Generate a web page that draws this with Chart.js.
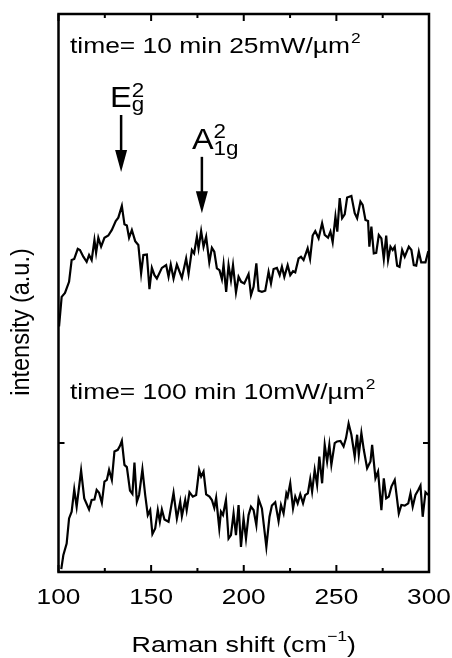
<!DOCTYPE html>
<html lang="en">
<head>
<meta charset="UTF-8">
<title>Raman spectra</title>
<script src="https://cdn.jsdelivr.net/npm/chart.js"></script>
<style>
  html, body { margin: 0; padding: 0; background: #fff; }
  canvas { display: block; }
</style>
</head>
<body>
<canvas id="ramanChart" width="452" height="658"></canvas>
<script>
// upper spectrum: time = 10 min, 25 mW/um2
const xTop = [100.3,101.7,103.5,105.7,107.1,108.5,110.4,111.6,113.4,115.2,
  116.5,117.9,119.4,120.3,121.5,123.0,124.8,126.9,128.8,130.9,
  132.3,134.2,135.6,136.9,138.1,139.6,141.4,143.1,144.6,145.8,
  147.7,149.1,150.4,151.8,153.1,155.8,158.1,159.4,160.6,162.1,
  163.9,166.6,168.9,170.2,172.0,173.2,174.7,175.6,177.0,178.3,
  179.7,181.4,182.8,184.1,185.5,186.9,188.2,189.1,190.5,191.8,
  193.1,194.2,195.8,197.2,198.6,200.3,202.6,203.9,205.3,206.8,
  208.0,209.8,211.6,213.4,214.7,216.1,217.9,219.4,220.6,221.9,
  223.7,225.1,226.6,227.8,229.6,230.9,232.3,234.5,235.8,237.2,
  238.6,240.4,242.3,243.7,245.5,246.8,248.0,249.5,250.5,251.8,
  253.1,254.5,255.8,258.1,259.9,261.2,263.0,264.2,265.7,267.1,
  267.8,268.9,270.2,271.5,272.9,274.3,275.6,276.9,277.9,279.2,
  280.4,281.5,282.8,284.1,285.5,286.9,289.1,290.5,291.8,293.1,
  294.5,295.8,298.1,299.6];
const yTop = [44.0,49.3,50.0,52.0,55.9,56.1,57.9,57.7,56.5,55.6,
  56.8,55.9,59.5,57.2,59.9,58.3,59.9,60.3,61.3,62.9,
  63.5,65.6,62.3,62.1,59.9,61.3,59.3,58.6,53.5,56.8,
  56.9,50.7,54.5,53.2,52.6,54.5,55.0,52.9,55.1,52.6,
  55.1,52.7,56.2,53.4,57.7,57.1,60.1,58.0,61.1,58.3,
  60.1,55.5,58.1,57.4,54.4,54.1,52.5,55.1,50.2,55.0,
  52.3,55.0,50.1,52.9,52.0,51.7,53.4,49.6,51.1,55.3,
  50.4,50.2,50.4,53.8,51.7,54.3,54.5,53.2,54.7,52.9,
  55.0,53.2,53.9,53.7,56.2,56.5,55.9,58.0,56.1,60.3,
  61.1,59.8,62.5,60.4,59.9,61.0,59.1,63.7,61.0,67.0,
  63.4,64.1,67.1,67.4,64.3,63.4,66.4,65.8,63.1,62.9,
  58.3,61.9,57.1,57.2,60.4,59.8,56.1,60.3,55.9,58.3,
  57.7,58.3,54.9,54.7,57.7,56.5,58.3,57.7,55.0,54.9,
  57.4,55.5,55.5,57.5];

// lower spectrum: time = 100 min, 10 mW/um2
const xBottom = [101.5,102.6,104.4,105.7,107.1,108.5,109.8,112.2,113.9,116.5,
  117.9,119.4,120.6,121.9,123.4,124.8,126.1,127.3,128.8,130.2,
  132.0,133.2,134.2,135.6,136.9,138.6,139.9,141.0,142.3,143.5,
  145.3,146.8,148.2,149.5,150.7,152.2,153.6,154.7,155.8,157.2,
  159.4,162.1,163.9,165.7,166.6,168.4,169.2,170.7,172.5,174.3,
  175.9,177.0,178.3,179.7,181.5,182.8,184.1,185.1,186.8,187.7,
  188.8,190.4,191.8,193.1,194.5,195.8,197.2,198.5,199.9,201.2,
  202.6,203.9,205.3,206.8,208.0,209.8,212.2,213.9,215.2,217.0,
  218.8,220.1,221.5,223.0,223.7,225.1,226.6,227.8,229.1,230.5,
  232.0,233.2,234.6,235.9,236.9,238.3,239.6,240.8,242.3,243.7,
  245.0,246.2,247.3,249.1,250.4,252.2,253.9,255.2,256.6,258.1,
  259.9,261.2,262.1,263.5,264.8,266.6,268.4,269.3,271.1,272.5,
  274.3,275.6,276.9,278.3,279.7,281.5,283.7,285.1,286.9,288.8,
  290.0,291.2,292.7,294.2,295.4,296.6,298.1,299.6];
const yBottom = [0.5,3.0,5.1,9.6,10.8,14.8,11.7,18.2,13.2,11.2,
  12.9,13.0,14.7,14.2,12.4,16.2,16.5,18.3,16.5,21.6,
  21.9,22.6,23.5,19.2,18.8,14.6,14.0,19.6,12.6,13.8,
  18.4,13.8,10.2,11.1,6.8,7.8,11.1,9.0,11.2,9.4,
  9.0,14.2,9.6,12.6,10.0,12.9,11.1,14.3,13.5,13.8,
  18.3,17.1,18.0,13.9,13.5,12.9,11.5,13.3,7.8,10.8,
  10.2,12.9,6.0,6.6,10.5,6.6,12.0,4.5,9.6,6.0,
  10.2,11.7,11.1,8.4,13.1,11.4,4.5,9.9,11.9,12.5,
  9.1,12.0,10.5,14.1,13.5,15.9,11.4,13.5,12.3,13.9,
  12.3,13.8,14.1,16.7,14.4,18.3,15.6,20.7,15.9,22.8,
  19.8,22.8,19.2,23.1,23.4,23.5,22.5,24.0,26.6,24.6,
  20.7,24.6,21.0,24.9,21.9,18.6,19.8,22.8,16.8,18.0,
  11.1,16.8,13.2,13.5,15.3,16.5,10.5,12.0,11.9,12.3,
  14.1,11.7,13.8,14.7,15.5,9.9,14.3,13.8];

const xTicks = [100, 150, 200, 250, 300];
const xMinorTicks = [125, 175, 225, 275];
const yTicks = [23.1];

const seriesLabels = ['time= 10 min 25mW/\u00b5m', 'time= 100 min 10mW/\u00b5m'];
// peak markers: x position (cm-1), arrow top/bottom (intensity)
const peaks = [
  { base: 'E', sup: '2', sub: 'g', x: 133.8, from: 81.9, to: 71.7 },
  { base: 'A', sup: '2', sub: '1g', x: 177.4, from: 74.4, to: 64.3 }
];

const FONT = '"Liberation Sans", Arial, Helvetica, sans-serif';
const SX = 1.2; // the figure's text is a little wider than it is tall

function toPoints(xs, ys) {
  return xs.map((x, i) => ({ x: x, y: ys[i] }));
}

function wideText(ctx, str, x, y, size, sx, align) {
  ctx.save();
  ctx.font = size + 'px ' + FONT;
  const w = ctx.measureText(str).width * sx;
  ctx.translate(align === 'center' ? x - w / 2 : x, y);
  ctx.scale(sx, 1);
  ctx.fillText(str, 0, 0);
  ctx.restore();
  return w;
}

const decorations = {
  id: 'decorations',
  afterDraw(chart) {
    const ctx = chart.ctx;
    const a = chart.chartArea;
    const xs = chart.scales.x;
    const ys = chart.scales.y;
    ctx.save();
    ctx.strokeStyle = '#000';
    ctx.fillStyle = '#000';
    ctx.textBaseline = 'alphabetic';
    ctx.textAlign = 'left';

    // frame
    ctx.lineWidth = 2.5;
    ctx.strokeRect(a.left, a.top, a.right - a.left, a.bottom - a.top);

    // inward ticks
    ctx.lineWidth = 2;
    ctx.beginPath();
    xTicks.concat(xMinorTicks).forEach(v => {
      const px = xs.getPixelForValue(v);
      const len = xTicks.includes(v) ? 7 : 4;
      ctx.moveTo(px, a.bottom); ctx.lineTo(px, a.bottom - len);
      ctx.moveTo(px, a.top); ctx.lineTo(px, a.top + len);
    });
    yTicks.forEach(v => {
      const py = ys.getPixelForValue(v);
      ctx.moveTo(a.left, py); ctx.lineTo(a.left + 6, py);
      ctx.moveTo(a.right, py); ctx.lineTo(a.right - 6, py);
    });
    ctx.stroke();

    // tick labels from the x scale
    xs.ticks.forEach(t => {
      wideText(ctx, String(t.value), xs.getPixelForValue(t.value), a.bottom + 32, 21.5, 1.22, 'center');
    });

    // series labels
    const lx = xs.getPixelForValue(106.2);
    [93.0, 31.0].forEach((yv, i) => {
      const py = ys.getPixelForValue(yv);
      const w = wideText(ctx, seriesLabels[i], lx, py, 22, SX);
      wideText(ctx, '2', lx + w + 1, py - 10, 14.5, SX);
    });

    // peak labels and arrows
    peaks.forEach((p, i) => {
      const px = xs.getPixelForValue(p.x);
      const y0 = ys.getPixelForValue(p.from);
      const y1 = ys.getPixelForValue(p.to);
      ctx.lineWidth = 2.5;
      ctx.beginPath();
      ctx.moveTo(px, y0); ctx.lineTo(px, y1 - 18);
      ctx.stroke();
      ctx.beginPath();
      ctx.moveTo(px - 6, y1 - 22); ctx.lineTo(px + 6, y1 - 22); ctx.lineTo(px, y1);
      ctx.closePath();
      ctx.fill();

      const bx = px - (i === 0 ? 11 : 10);
      const by = y0 - 8;
      const w = wideText(ctx, p.base, bx, by, 29, 1.12);
      wideText(ctx, p.sup, bx + w, by - (i === 0 ? 10 : 11), 20, 1.12);
      wideText(ctx, p.sub, bx + w, by + (i === 0 ? 4 : 6), 20, 1.12);
    });

    // axis titles
    const cx = (a.left + a.right) / 2;
    const t1 = 'Raman shift (cm', t2 = '\u22121', t3 = ')';
    const tsx = 1.22;
    ctx.font = '22px ' + FONT;
    const w1 = ctx.measureText(t1).width * tsx;
    ctx.font = '14.5px ' + FONT;
    const w2 = ctx.measureText(t2).width * tsx;
    ctx.font = '22px ' + FONT;
    const w3 = ctx.measureText(t3).width * tsx;
    let tx = cx - (w1 + w2 + w3) / 2;
    wideText(ctx, t1, tx, 652, 22, tsx);
    wideText(ctx, t2, tx + w1, 641, 14.5, tsx);
    wideText(ctx, t3, tx + w1 + w2, 652, 22, tsx);

    ctx.save();
    ctx.translate(29, 322);
    ctx.rotate(-Math.PI / 2);
    ctx.scale(1, 1.12);
    ctx.font = '23.5px ' + FONT;
    ctx.textAlign = 'center';
    ctx.fillText('intensity (a.u.)', 0, 0);
    ctx.restore();

    ctx.restore();
  }
};

new Chart(document.getElementById('ramanChart'), {
  type: 'line',
  data: {
    datasets: [
      { data: toPoints(xTop, yTop), borderColor: '#000', borderWidth: 2.2, pointRadius: 0, tension: 0, fill: false },
      { data: toPoints(xBottom, yBottom), borderColor: '#000', borderWidth: 2.2, pointRadius: 0, tension: 0, fill: false }
    ]
  },
  options: {
    responsive: false,
    animation: false,
    events: [],
    layout: { padding: { top: 14, right: 23, left: 0, bottom: 0 } },
    plugins: { legend: { display: false }, tooltip: { enabled: false } },
    scales: {
      x: {
        type: 'linear', min: 100, max: 300,
        afterBuildTicks: s => { s.ticks = xTicks.map(v => ({ value: v })); },
        grid: { display: false, drawTicks: false },
        border: { display: false },
        ticks: { display: false },
        afterFit: s => { s.height = 86; s.paddingLeft = 0; s.paddingRight = 0; }
      },
      y: {
        min: 0, max: 100,
        grid: { display: false, drawTicks: false },
        border: { display: false },
        ticks: { display: false },
        afterFit: s => { s.width = 58.5; s.paddingTop = 0; s.paddingBottom = 0; }
      }
    }
  },
  plugins: [decorations]
});
</script>
</body>
</html>
